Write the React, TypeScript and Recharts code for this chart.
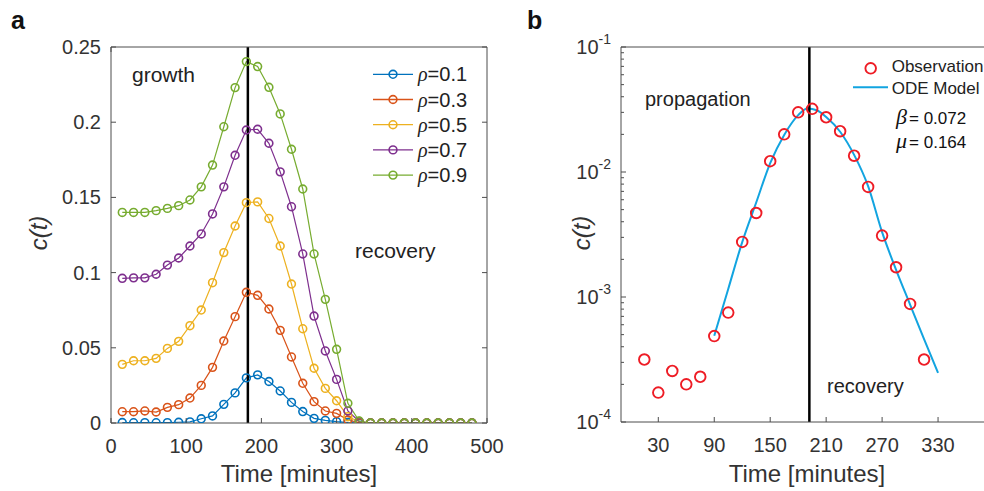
import React from 'react';
import { LineChart, Line, XAxis, YAxis, ReferenceLine, Legend, ComposedChart, Scatter } from 'recharts';

const FONT = '"Liberation Sans", Arial, Helvetica, sans-serif';
const SERIF = '"Liberation Serif", "Times New Roman", serif';
const AXIS_COLOR = '#4d4d4d';
const TEXT_COLOR = '#333333';

// ---------- Panel a ----------
const times = [15, 30, 45, 60, 75, 90, 105, 120, 135, 150, 165, 180, 195, 210, 225, 240, 255, 270, 285, 300, 315, 330, 345, 360, 375, 390, 405, 420, 435, 450, 465, 480];
const rho01 = [0.0003, 0.0002, 0.00026, 0.0002, 0.00023, 0.0005, 0.00075, 0.0028, 0.0047, 0.0124, 0.02, 0.03, 0.032, 0.0276, 0.0213, 0.0137, 0.0076, 0.0031, 0.0017, 0.0009, 0.0003, 0, 0, 0, 0, 0, 0, 0, 0, 0, 0, 0];
const rho03 = [0.0075, 0.0075, 0.008, 0.0073, 0.0104, 0.0122, 0.0166, 0.025, 0.037, 0.0545, 0.0707, 0.0869, 0.0849, 0.0758, 0.0616, 0.0439, 0.0264, 0.0142, 0.008, 0.0064, 0.002, 0.0002, 0, 0, 0, 0, 0, 0, 0, 0, 0, 0];
const rho05 = [0.039, 0.0414, 0.0414, 0.043, 0.0496, 0.0543, 0.0647, 0.0751, 0.0933, 0.1133, 0.131, 0.1465, 0.147, 0.136, 0.1177, 0.0924, 0.0627, 0.0364, 0.023, 0.0148, 0.0042, 0.001, 0, 0, 0, 0, 0, 0, 0, 0, 0, 0];
const rho07 = [0.0962, 0.0965, 0.0965, 0.0989, 0.105, 0.1097, 0.1177, 0.1257, 0.139, 0.157, 0.178, 0.1948, 0.1953, 0.186, 0.167, 0.1438, 0.1124, 0.0711, 0.0479, 0.029, 0.008, 0.001, 0, 0, 0, 0, 0, 0, 0, 0, 0, 0];
const rho09 = [0.14, 0.14, 0.14, 0.1412, 0.1427, 0.1445, 0.1483, 0.157, 0.1715, 0.197, 0.223, 0.2403, 0.237, 0.2232, 0.2055, 0.182, 0.1556, 0.1124, 0.0822, 0.049, 0.0131, 0.0013, 0, 0, 0, 0, 0, 0, 0, 0, 0, 0];
const rhoLabels = ['0.1', '0.3', '0.5', '0.7', '0.9'];
const rhoColors = ['#0072BD', '#D95319', '#EDB120', '#7E2F8E', '#77AC30'];
const xTicksA = [0, 100, 200, 300, 400, 500];
const yTicksA = [0, 0.05, 0.1, 0.15, 0.2, 0.25];
const yTickLabelsA = ['0', '0.05', '0.1', '0.15', '0.2', '0.25'];
const peakTimeA = 182;

// ---------- Panel b ----------
const obsTimes = [15, 30, 45, 60, 75, 90, 105, 120, 135, 150, 165, 180, 195, 210, 225, 240, 255, 270, 285, 300, 315];
const obsValues = [3.16e-4, 1.72e-4, 2.56e-4, 2.0e-4, 2.3e-4, 4.87e-4, 7.5e-4, 2.76e-3, 4.7e-3, 1.22e-2, 2.0e-2, 3.0e-2, 3.2e-2, 2.74e-2, 2.12e-2, 1.35e-2, 7.6e-3, 3.1e-3, 1.73e-3, 8.8e-4, 3.16e-4];
const modelTimes = [90, 105, 120, 135, 150, 165, 180, 190, 200, 210, 225, 240, 255, 270, 285, 300, 315, 330];
const modelValues = [4.9e-4, 1.16e-3, 2.75e-3, 5.7e-3, 1.18e-2, 1.98e-2, 2.85e-2, 3.22e-2, 3.12e-2, 2.75e-2, 2.1e-2, 1.37e-2, 7.7e-3, 3.3e-3, 1.65e-3, 8.7e-4, 4.6e-4, 2.47e-4];
const xTicksB = [30, 90, 150, 210, 270, 330];
const yDecadesB = [1e-4, 1e-3, 1e-2, 1e-1];
const yDecadeExponents = ['-4', '-3', '-2', '-1'];
const minorMultipliers = [2, 3, 4, 5, 6, 7, 8, 9];
const peakTimeB = 192;
const betaText = '0.072';
const muText = '0.164';

const yTicksB: number[] = [];
yDecadesB.forEach((d, i) => {
  yTicksB.push(d);
  if (i < yDecadesB.length - 1) minorMultipliers.forEach((m) => yTicksB.push(+(d * m).toPrecision(3)));
});

const isDecade = (v: number) => yDecadesB.some((d) => Math.abs(d - v) / d < 1e-6);

// ---------- Tick renderers (ticks drawn inside the box, MATLAB style) ----------
const bottomTick = (fmt: ((v: number) => string) | null) => (props: any) => {
  const { x, y, payload } = props;
  return (
    <g>
      <line x1={x} x2={x} y1={y} y2={y - 5} stroke={AXIS_COLOR} strokeWidth={1} />
      {fmt && (
        <text x={x} y={y + 30} textAnchor="middle" fontSize={20} fill={TEXT_COLOR} fontFamily={FONT}>
          {fmt(payload.value)}
        </text>
      )}
    </g>
  );
};
const topTick = (props: any) => {
  const { x, y } = props;
  return <line x1={x} x2={x} y1={y} y2={y + 5} stroke={AXIS_COLOR} strokeWidth={1} />;
};
const leftTickA = (props: any) => {
  const { x, y, payload } = props;
  const idx = yTicksA.indexOf(payload.value);
  return (
    <g>
      <line x1={x} x2={x + 5} y1={y} y2={y} stroke={AXIS_COLOR} strokeWidth={1} />
      <text x={x - 10} y={y + 7} textAnchor="end" fontSize={20} fill={TEXT_COLOR} fontFamily={FONT}>
        {idx >= 0 ? yTickLabelsA[idx] : String(payload.value)}
      </text>
    </g>
  );
};
const rightTick = (props: any) => {
  const { x, y } = props;
  return <line x1={x} x2={x - 5} y1={y} y2={y} stroke={AXIS_COLOR} strokeWidth={1} />;
};
const leftTickB = (props: any) => {
  const { x, y, payload } = props;
  const v = payload.value as number;
  const major = isDecade(v);
  const di = yDecadesB.findIndex((d) => Math.abs(d - v) / d < 1e-6);
  return (
    <g>
      <line x1={x} x2={x + (major ? 5 : 3)} y1={y} y2={y} stroke={AXIS_COLOR} strokeWidth={1} />
      {major && (
        <text x={x - 10} y={y + 7} textAnchor="end" fontSize={20} fill={TEXT_COLOR} fontFamily={FONT}>
          <tspan>10</tspan>
          <tspan dy={-10} fontSize={14}>{yDecadeExponents[di]}</tspan>
        </text>
      )}
    </g>
  );
};
const rightTickB = (props: any) => {
  const { x, y, payload } = props;
  const major = isDecade(payload.value);
  return <line x1={x} x2={x - (major ? 5 : 3)} y1={y} y2={y} stroke={AXIS_COLOR} strokeWidth={1} />;
};

const LegendA = () => (
  <svg width={125} height={130} style={{ overflow: 'visible' }}>
    {rhoLabels.map((lab, i) => {
      const cy = 14.3 + i * 25.2;
      return (
        <g key={lab}>
          <line x1={5} x2={45} y1={cy} y2={cy} stroke={rhoColors[i]} strokeWidth={1.3} />
          <circle cx={25} cy={cy} r={3.9} fill="none" stroke={rhoColors[i]} strokeWidth={1.6} />
          <text x={50} y={cy + 7} fontSize={20} fill="#222" fontFamily={FONT}>
            <tspan fontFamily={SERIF} fontStyle="italic">ρ</tspan>
            <tspan>={lab}</tspan>
          </text>
        </g>
      );
    })}
  </svg>
);

const LegendB = () => (
  <svg width={220} height={50} style={{ overflow: 'visible' }}>
    <circle cx={25.7} cy={13.3} r={5.3} fill="none" stroke="#EE1C25" strokeWidth={1.9} />
    <text x={46.7} y={16.7} fontSize={17} fill="#222" fontFamily={FONT}>Observation</text>
    <line x1={8} x2={43} y1={32.3} y2={32.3} stroke="#12A4E0" strokeWidth={2} />
    <text x={46.7} y={39} fontSize={17} fill="#222" fontFamily={FONT}>ODE Model</text>
  </svg>
);

const circleDot = (color: string) => (p: any) => (
  <circle key={`d-${p.index}`} cx={p.cx} cy={p.cy} r={3.9} fill="none" stroke={color} strokeWidth={1.6} />
);

export default function App() {
  const seriesA = [rho01, rho03, rho05, rho07, rho09];
  const dataA = times.map((t, i) => {
    const row: any = { t };
    seriesA.forEach((s, k) => {
      row['s' + k] = s[i];
    });
    return row;
  });
  const obsData = obsTimes.map((t, i) => ({ t, c: obsValues[i] }));
  const modelData = modelTimes.map((t, i) => ({ t, c: modelValues[i] }));

  return (
    <div style={{ position: 'absolute', left: 0, top: 0, width: 984, height: 491, overflow: 'hidden', background: '#fff', fontFamily: FONT }}>
      <div style={{ position: 'absolute', left: 0, top: 0 }}>
        <LineChart width={530} height={491} data={dataA} margin={{ top: 46, right: 42, bottom: 67, left: 110 }}>
          <XAxis dataKey="t" type="number" domain={[0, 500]} ticks={xTicksA} interval={0} allowDataOverflow
            tickSize={0} tickMargin={0} tickLine={false} height={1} axisLine={{ stroke: AXIS_COLOR }}
            tick={bottomTick((v) => String(v))} />
          <XAxis xAxisId="top" orientation="top" type="number" domain={[0, 500]} ticks={xTicksA} interval={0} allowDataOverflow
            tickSize={0} tickMargin={0} tickLine={false} height={1} axisLine={{ stroke: AXIS_COLOR }} tick={topTick} />
          <YAxis type="number" domain={[0, 0.25]} ticks={yTicksA} interval={0} allowDataOverflow
            tickSize={0} tickMargin={0} tickLine={false} width={1} axisLine={{ stroke: AXIS_COLOR }} tick={leftTickA} />
          <YAxis yAxisId="r" orientation="right" type="number" domain={[0, 0.25]} ticks={yTicksA} interval={0} allowDataOverflow
            tickSize={0} tickMargin={0} tickLine={false} width={1} axisLine={{ stroke: AXIS_COLOR }} tick={rightTick} />
          {seriesA.map((_, k) => (
            <Line key={k} type="linear" dataKey={'s' + k} stroke={rhoColors[k]} strokeWidth={1.2}
              dot={circleDot(rhoColors[k])} isAnimationActive={false} />
          ))}
          <ReferenceLine x={peakTimeA} stroke="#000" strokeWidth={2.5} />
          <Legend layout="vertical" align="center" verticalAlign="middle"
            wrapperStyle={{ position: 'absolute', left: 368, top: 60, width: 125, height: 130 }}
            content={() => <LegendA />} />
        </LineChart>
      </div>

      <div style={{ position: 'absolute', left: 540, top: 0 }}>
        <ComposedChart width={470} height={491} margin={{ top: 46, right: 15, bottom: 68, left: 80 }}>
          <XAxis dataKey="t" type="number" domain={[-10, 390]} ticks={xTicksB} interval={0} allowDataOverflow
            tickSize={0} tickMargin={0} tickLine={false} height={1} axisLine={{ stroke: AXIS_COLOR }}
            tick={bottomTick((v) => String(v))} />
          <XAxis xAxisId="top" orientation="top" type="number" domain={[-10, 390]} ticks={xTicksB} interval={0} allowDataOverflow
            tickSize={0} tickMargin={0} tickLine={false} height={1} axisLine={{ stroke: AXIS_COLOR }} tick={topTick} />
          <YAxis dataKey="c" type="number" scale="log" domain={[1e-4, 1e-1]} ticks={yTicksB} interval={0} allowDataOverflow
            tickSize={0} tickMargin={0} tickLine={false} width={1} axisLine={{ stroke: AXIS_COLOR }} tick={leftTickB} />
          <YAxis yAxisId="r" orientation="right" type="number" scale="log" domain={[1e-4, 1e-1]} ticks={yTicksB} interval={0} allowDataOverflow
            tickSize={0} tickMargin={0} tickLine={false} width={1} axisLine={{ stroke: AXIS_COLOR }} tick={rightTickB} />
          <Line data={modelData} dataKey="c" type="monotone" stroke="#12A4E0" strokeWidth={2} dot={false} isAnimationActive={false} />
          <Scatter data={obsData} dataKey="c" isAnimationActive={false}
            shape={(p: any) => <circle cx={p.cx} cy={p.cy} r={5.3} fill="none" stroke="#EE1C25" strokeWidth={1.9} />} />
          <ReferenceLine x={peakTimeB} stroke="#000" strokeWidth={2.5} />
          <Legend layout="vertical" align="center" verticalAlign="middle"
            wrapperStyle={{ position: 'absolute', left: 305, top: 55, width: 220, height: 50 }}
            content={() => <LegendB />} />
        </ComposedChart>
      </div>

      <svg width={984} height={491} style={{ position: 'absolute', left: 0, top: 0, pointerEvents: 'none' }}>
        <text x={11} y={29} fontSize={25} fontWeight="bold" fill="#111" fontFamily={FONT}>a</text>
        <text x={527} y={29} fontSize={25} fontWeight="bold" fill="#111" fontFamily={FONT}>b</text>
        <text x={132} y={82} fontSize={21} fill="#222" fontFamily={FONT}>growth</text>
        <text x={355} y={258} fontSize={21} fill="#222" fontFamily={FONT}>recovery</text>
        <text x={645} y={106} fontSize={20} fill="#222" fontFamily={FONT}>propagation</text>
        <text x={827} y={393} fontSize={20} fill="#222" fontFamily={FONT}>recovery</text>
        <text x={896} y={124} fill="#111" fontFamily={FONT}>
          <tspan fontSize={22} fontStyle="italic" fontFamily={SERIF}>β</tspan>
          <tspan fontSize={17} dx={2}>= {betaText}</tspan>
        </text>
        <text x={896} y={148} fill="#111" fontFamily={FONT}>
          <tspan fontSize={22} fontStyle="italic" fontFamily={SERIF}>μ</tspan>
          <tspan fontSize={17} dx={2}>= {muText}</tspan>
        </text>
        <text transform="translate(47,233) rotate(-90)" textAnchor="middle" fontSize={24} fontStyle="italic" fill={TEXT_COLOR} fontFamily={FONT}>c(t)</text>
        <text transform="translate(590,233) rotate(-90)" textAnchor="middle" fontSize={24} fontStyle="italic" fill={TEXT_COLOR} fontFamily={FONT}>c(t)</text>
        <text x={299} y={482} textAnchor="middle" fontSize={24} fill={TEXT_COLOR} fontFamily={FONT}>Time [minutes]</text>
        <text x={807} y={482} textAnchor="middle" fontSize={24} fill={TEXT_COLOR} fontFamily={FONT}>Time [minutes]</text>
      </svg>
    </div>
  );
}
